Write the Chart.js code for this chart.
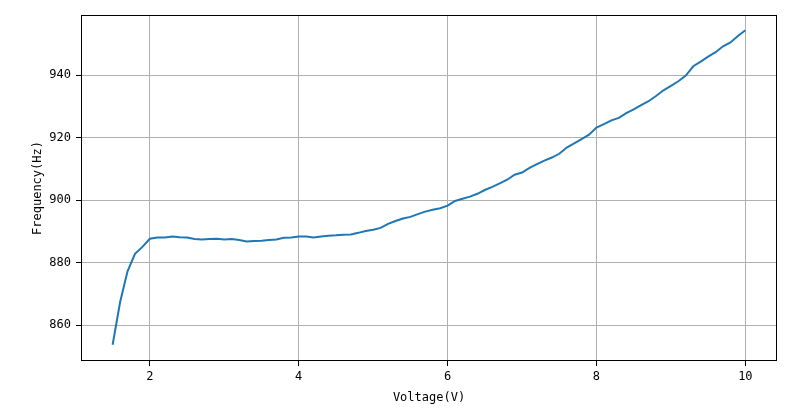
<!DOCTYPE html>
<html>
<head>
<meta charset="utf-8">
<script src="https://cdn.jsdelivr.net/npm/chart.js@4/dist/chart.umd.min.js"></script>
<style>
html,body{margin:0;padding:0;background:#fff;}
canvas{display:block;}
</style>
</head>
<body>
<canvas id="c" width="800" height="409"></canvas>
<script>
const voltages = [1.5,1.6,1.7,1.8,1.9,2.0,2.1,2.2,2.3,2.4,2.5,2.6,2.7,2.8,2.9,3.0,3.1,3.2,3.3,3.4,3.5,3.6,3.7,3.8,3.9,4.0,4.1,4.2,4.3,4.4,4.5,4.6,4.7,4.8,4.9,5.0,5.1,5.2,5.3,5.4,5.5,5.6,5.7,5.8,5.9,6.0,6.1,6.2,6.3,6.4,6.5,6.6,6.7,6.8,6.9,7.0,7.1,7.2,7.3,7.4,7.5,7.6,7.7,7.8,7.9,8.0,8.1,8.2,8.3,8.4,8.5,8.6,8.7,8.8,8.9,9.0,9.1,9.2,9.3,9.4,9.5,9.6,9.7,9.8,9.9,10.0];
const frequencies = [853.7,867.3,877.2,882.8,885.0,887.6,888.0,888.0,888.3,888.1,888.0,887.5,887.4,887.5,887.6,887.4,887.5,887.2,886.7,886.9,887.0,887.2,887.4,887.9,888.0,888.3,888.3,888.0,888.3,888.6,888.7,888.9,889.0,889.5,890.1,890.5,891.1,892.4,893.3,894.1,894.6,895.5,896.3,896.9,897.4,898.2,899.7,900.4,901.1,902.0,903.2,904.2,905.3,906.5,908.1,908.8,910.3,911.5,912.6,913.6,914.8,916.8,918.1,919.5,920.9,923.2,924.3,925.5,926.3,927.8,929.0,930.4,931.6,933.3,935.1,936.5,938.0,939.8,942.8,944.3,945.9,947.3,949.2,950.4,952.5,954.3];
const xTicks = [2,4,6,8,10];
const yTicks = [860,880,900,920,940];
const xLabel = 'Voltage(V)';
const yLabel = 'Frequency(Hz)';

const FONT = "'DejaVu Sans Mono', 'Liberation Mono', monospace";

const frame = {
  id: 'frame',
  afterDatasetsDraw(chart) {
    const a = chart.chartArea, ctx = chart.ctx;
    ctx.save();
    ctx.strokeStyle = '#000';
    ctx.lineWidth = 1;
    ctx.strokeRect(Math.round(a.left) + 0.5, Math.round(a.top) + 0.5, Math.round(a.right - a.left) - 1, Math.round(a.bottom - a.top) - 1);
    ctx.restore();
  }
};

new Chart(document.getElementById('c'), {
  type: 'line',
  data: {
    datasets: [{
      data: voltages.map((v, i) => ({x: v, y: frequencies[i]})),
      borderColor: '#1f77b4',
      borderWidth: 2,
      pointRadius: 0,
      tension: 0,
      fill: false
    }]
  },
  options: {
    responsive: false,
    animation: false,
    devicePixelRatio: 1,
    layout: {padding: {left: 0, top: 15, right: 23, bottom: 0}},
    plugins: {legend: {display: false}, tooltip: {enabled: false}},
    scales: {
      x: {
        type: 'linear',
        min: 1.075,
        max: 10.425,
        afterBuildTicks: s => { s.ticks = xTicks.map(v => ({value: v})); },
        afterFit: s => { s.height = 48; },
        grid: {color: '#b0b0b0', lineWidth: 1, tickColor: '#000', tickLength: 5, drawTicks: true},
        border: {display: false},
        ticks: {color: '#000', font: {family: FONT, size: 12}, padding: 4, maxRotation: 0},
        title: {display: true, text: xLabel, color: '#000', font: {family: FONT, size: 12}, padding: {top: 0, bottom: 4}}
      },
      y: {
        type: 'linear',
        min: 848.5,
        max: 959.2,
        afterBuildTicks: s => { s.ticks = yTicks.map(v => ({value: v})); },
        afterFit: s => { s.width = 81; },
        grid: {color: '#b0b0b0', lineWidth: 1, tickColor: '#000', tickLength: 5, drawTicks: true},
        border: {display: false},
        ticks: {color: '#000', font: {family: FONT, size: 12}, padding: 5},
        title: {display: true, text: yLabel, color: '#000', font: {family: FONT, size: 12}, padding: {top: 31, bottom: 0}}
      }
    }
  },
  plugins: [frame]
});
</script>
</body>
</html>
